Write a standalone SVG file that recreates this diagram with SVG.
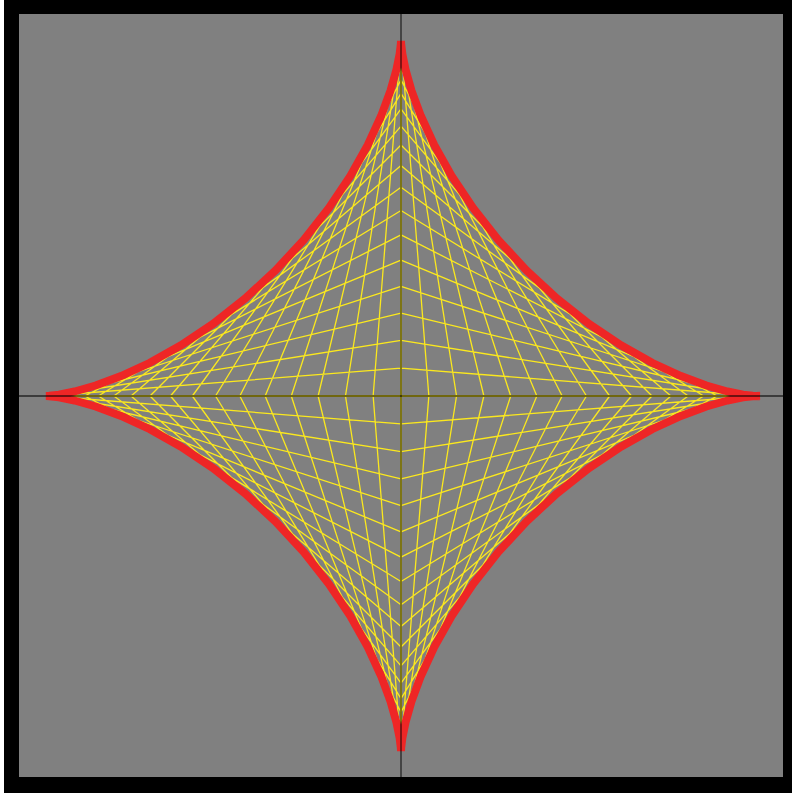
<svg xmlns="http://www.w3.org/2000/svg" xmlns:xlink="http://www.w3.org/1999/xlink" width="792" height="793" viewBox="0 0 792 793">
<style>
.frame{fill:#000}
.bg{fill:#808080}
.web{fill:none;stroke:#fbe81d;stroke-width:1.3}
.astroid{fill:none;stroke:#ee2626;stroke-width:8;stroke-linecap:square;stroke-linejoin:miter}
.axis{stroke:#000;stroke-opacity:0.72;stroke-width:1.3}
</style>
<defs>
<path id="q" d="M355 0L0 0M353.91 0L0 -27.85M350.63 0L0 -55.53M345.19 0L0 -82.87M337.63 0L0 -109.70M327.98 0L0 -135.85M316.31 0L0 -161.17M302.69 0L0 -185.49M287.20 0L0 -208.66M269.94 0L0 -230.55M251.02 0L0 -251.02M230.55 0L0 -269.94M208.66 0L0 -287.20M185.49 0L0 -302.69M161.17 0L0 -316.31M135.85 0L0 -327.98M109.70 0L0 -337.63M82.87 0L0 -345.19M55.53 0L0 -350.63M27.85 0L0 -353.91M0 0L0 -355"/>
</defs>
<rect id="frame" class="frame" x="4" y="0" width="788" height="793"/>
<rect id="background" class="bg" x="19" y="14" width="764" height="763"/>
<g id="web" class="web" transform="translate(401,396)">
<use xlink:href="#q" href="#q"/>
<use xlink:href="#q" href="#q" transform="scale(-1,1)"/>
<use xlink:href="#q" href="#q" transform="scale(-1,-1)"/>
<use xlink:href="#q" href="#q" transform="scale(1,-1)"/>
</g>
<g id="astroid" transform="translate(401,396)">
<path class="astroid" d="M355 0L351.73 -0.17L342.05 -1.36L326.38 -4.52L305.38 -10.48L279.95 -19.90L251.11 -33.22L220.05 -50.64L187.98 -72.09L156.09 -97.24L125.51 -125.51L97.24 -156.09L72.09 -187.98L50.64 -220.05L33.22 -251.11L19.90 -279.95L10.48 -305.38L4.52 -326.38L1.36 -342.05L0.17 -351.73L0 -355L-0.17 -351.73L-1.36 -342.05L-4.52 -326.38L-10.48 -305.38L-19.90 -279.95L-33.22 -251.11L-50.64 -220.05L-72.09 -187.98L-97.24 -156.09L-125.51 -125.51L-156.09 -97.24L-187.98 -72.09L-220.05 -50.64L-251.11 -33.22L-279.95 -19.90L-305.38 -10.48L-326.38 -4.52L-342.05 -1.36L-351.73 -0.17L-355 0L-351.73 0.17L-342.05 1.36L-326.38 4.52L-305.38 10.48L-279.95 19.90L-251.11 33.22L-220.05 50.64L-187.98 72.09L-156.09 97.24L-125.51 125.51L-97.24 156.09L-72.09 187.98L-50.64 220.05L-33.22 251.11L-19.90 279.95L-10.48 305.38L-4.52 326.38L-1.36 342.05L-0.17 351.73L0 355L0.17 351.73L1.36 342.05L4.52 326.38L10.48 305.38L19.90 279.95L33.22 251.11L50.64 220.05L72.09 187.98L97.24 156.09L125.51 125.51L156.09 97.24L187.98 72.09L220.05 50.64L251.11 33.22L279.95 19.90L305.38 10.48L326.38 4.52L342.05 1.36L351.73 0.17L355 0"/>
</g>
<g id="axes" class="axis">
<line x1="19" y1="396" x2="783" y2="396"/>
<line x1="401" y1="14" x2="401" y2="777"/>
</g>
</svg>
